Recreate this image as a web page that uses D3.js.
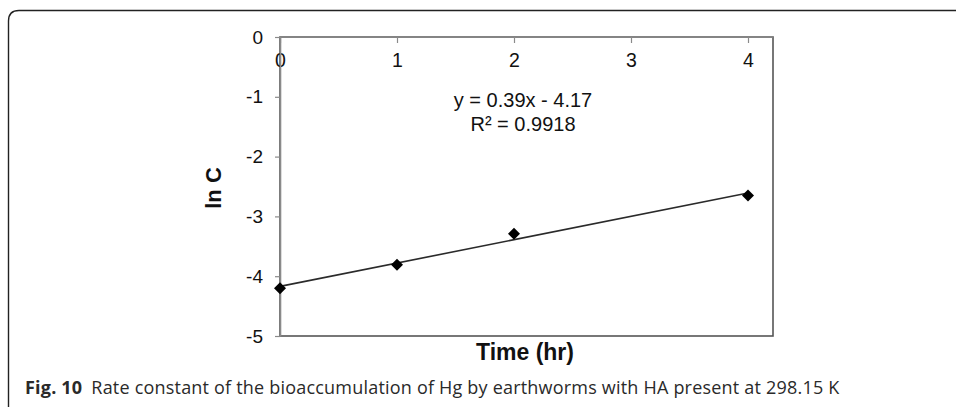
<!DOCTYPE html>
<html>
<head>
<meta charset="utf-8">
<script src="https://cdn.jsdelivr.net/npm/d3@7"></script>
<style>
  html, body { margin: 0; padding: 0; background: #fff; }
  svg { display: block; }
</style>
</head>
<body>
<svg id="chart" width="956" height="407"></svg>
<script>
// Measured ln C against time, with the fitted linear trend
const timeHr = [0, 1, 2, 4];
const lnC = [-4.20, -3.81, -3.29, -2.65];
const fitSlope = 0.39;
const fitIntercept = -4.17;
const fitLabel = ["y = 0.39x - 4.17", "R\u00b2 = 0.9918"];
const xTicks = [0, 1, 2, 3, 4];
const yTicks = [0, -1, -2, -3, -4, -5];
const xTitle = "Time (hr)";
const yTitle = "ln C";
const captionBold = "Fig. 10";
const captionText = "Rate constant of the bioaccumulation of Hg by earthworms with HA present at 298.15 K";

const svg = d3.select("#chart");
const W = 956, H = 407;
const plain = v => String(v); // hyphen-minus, as in spreadsheet labels

// Figure frame with a rounded top-left corner
svg.append("path")
  .attr("d", `M${W},10.5 L19,10.5 Q8.5,10.5 8.5,21 L8.5,${H}`)
  .attr("fill", "none")
  .attr("stroke", "#222")
  .attr("stroke-width", 1.4);

const plot = { left: 280, top: 37, right: 773, bottom: 336 };

const x = d3.scaleLinear().domain([0, 4]).range([plot.left, 748]);
const y = d3.scaleLinear().domain([-5, 0]).range([plot.bottom, plot.top]);

// Plot area border (darker right/bottom edges)
svg.append("rect")
  .attr("x", plot.left).attr("y", plot.top)
  .attr("width", plot.right - plot.left)
  .attr("height", plot.bottom - plot.top)
  .attr("fill", "none")
  .attr("stroke", "#555")
  .attr("stroke-width", 1.6);

// X axis sits along y = 0 at the top, ticks pointing into the plot
const xAxis = svg.append("g")
  .attr("transform", `translate(0,${y(0)})`)
  .call(d3.axisBottom(x).tickValues(xTicks).tickSize(6).tickSizeOuter(0).tickPadding(10).tickFormat(plain));
xAxis.select(".domain").remove();
svg.append("line")
  .attr("x1", plot.left).attr("x2", plot.right)
  .attr("y1", y(0)).attr("y2", y(0))
  .attr("stroke", "#8a8a8a").attr("stroke-width", 1.6);
xAxis.selectAll(".tick line").attr("stroke", "#8a8a8a").attr("stroke-width", 1.2);
xAxis.selectAll(".tick text")
  .attr("fill", "#111")
  .style("font-family", "Arial, 'Liberation Sans', sans-serif")
  .style("font-size", "19.5px");

// Y axis
const yAxis = svg.append("g")
  .attr("transform", `translate(${plot.left},0)`)
  .call(d3.axisLeft(y).tickValues(yTicks).tickSize(5).tickSizeOuter(0).tickPadding(12).tickFormat(plain));
yAxis.select(".domain").attr("stroke", "#8a8a8a").attr("stroke-width", 1.6);
yAxis.selectAll(".tick line").attr("stroke", "#8a8a8a").attr("stroke-width", 1.2);
yAxis.selectAll(".tick text")
  .attr("fill", "#111")
  .style("font-family", "Arial, 'Liberation Sans', sans-serif")
  .style("font-size", "19px");

// Axis titles
svg.append("text")
  .attr("x", 525).attr("y", 360)
  .attr("text-anchor", "middle")
  .style("font-family", "Arial, 'Liberation Sans', sans-serif")
  .style("font-weight", "bold")
  .style("font-size", "23px")
  .attr("fill", "#111")
  .text(xTitle);

svg.append("text")
  .attr("transform", "translate(221,188) rotate(-90)")
  .attr("text-anchor", "middle")
  .style("font-family", "Arial, 'Liberation Sans', sans-serif")
  .style("font-weight", "bold")
  .style("font-size", "22px")
  .attr("fill", "#111")
  .text(yTitle);

// Linear trend line
const fx = d3.extent(timeHr);
svg.append("line")
  .attr("x1", x(fx[0])).attr("y1", y(fitSlope * fx[0] + fitIntercept))
  .attr("x2", x(fx[1])).attr("y2", y(fitSlope * fx[1] + fitIntercept))
  .attr("stroke", "#2a2a2a")
  .attr("stroke-width", 1.6);

// Data markers: black diamonds
const diamond = d3.symbol().type(d3.symbolSquare).size(72);
svg.append("g").selectAll("path")
  .data(timeHr.map((t, i) => ({ t, v: lnC[i] })))
  .join("path")
  .attr("d", diamond)
  .attr("transform", d => `translate(${x(d.t)},${y(d.v)}) rotate(45)`)
  .attr("fill", "#000");

// Fit equation
const eq = svg.append("text")
  .attr("text-anchor", "middle")
  .style("font-family", "Arial, 'Liberation Sans', sans-serif")
  .style("font-size", "20px")
  .attr("fill", "#111");
eq.selectAll("tspan")
  .data(fitLabel)
  .join("tspan")
  .attr("x", 523)
  .attr("y", (d, i) => 107 + i * 24)
  .text(d => d);

// Caption
const cap = svg.append("text")
  .attr("x", 25).attr("y", 394)
  .style("font-family", "'Open Sans', 'Noto Sans', sans-serif")
  .style("font-size", "18px")
  .style("letter-spacing", "0.2px")
  .attr("fill", "#2a2a2a");
cap.append("tspan").style("font-weight", "bold").text(captionBold);
cap.append("tspan").attr("dx", 9).text(captionText);
</script>
</body>
</html>
